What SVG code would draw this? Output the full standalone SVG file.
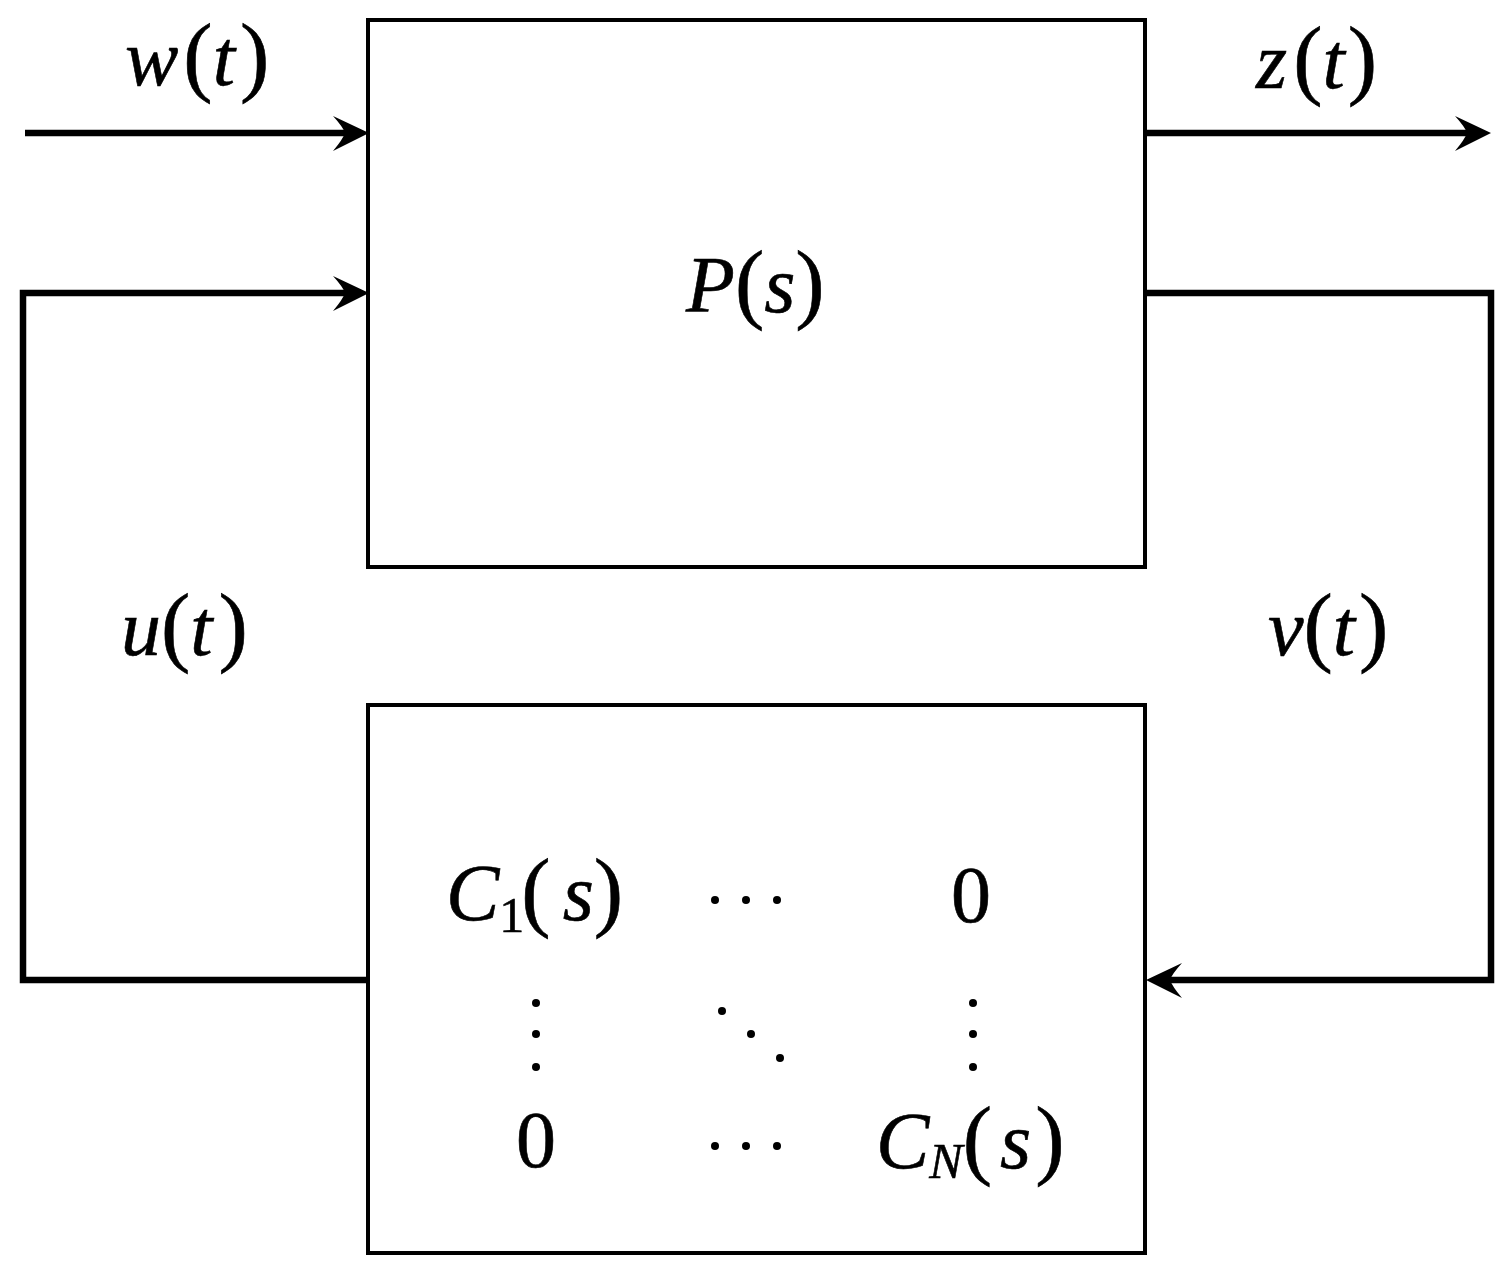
<svg xmlns="http://www.w3.org/2000/svg" width="1510" height="1273" viewBox="0 0 1510 1273">
<defs>
<style>
.box{fill:none;stroke:#000;stroke-width:4}
.wire{fill:none;stroke:#000;stroke-width:6.5}
.head{fill:#000;stroke:none}
.t{fill:#000;stroke:#000;stroke-width:0.6;font-size:80px}
.v{font-style:italic}
.p{font-style:normal;font-size:88px}
.n{font-style:normal}
.sub{font-size:50px}
</style>
</defs>
<rect width="1510" height="1273" fill="#fff"/>
<g id="connectors">
<line class="wire" x1="25" y1="133" x2="350" y2="133"/>
<path class="head" d="M369,133 L333,116 Q343,127 345,133 Q343,139 333,151 Z"/>
<line class="wire" x1="1146" y1="133" x2="1472" y2="133"/>
<path class="head" d="M1491,133 L1455,116 Q1465,127 1467,133 Q1465,139 1455,151 Z"/>
<polyline class="wire" points="368,980 23,980 23,293 350,293"/>
<path class="head" d="M369,293 L333,276 Q343,287 345,293 Q343,299 333,311 Z"/>
<polyline class="wire" points="1146,293 1491,293 1491,980 1164,980"/>
<path class="head" d="M1146,980 L1182,963 Q1172,974 1170,980 Q1172,986 1182,998 Z"/>
</g>
<g id="plant">
<rect class="box" x="368" y="20" width="777" height="547"/>
<text class="t" font-family="'Liberation Serif', 'DejaVu Serif', serif" x="686" y="312"><tspan class="v">P</tspan><tspan class="p">(</tspan><tspan class="v">s</tspan><tspan class="p">)</tspan></text>
</g>
<g id="controller">
<rect class="box" x="368" y="705" width="777" height="548"/>
<text class="t" font-family="'Liberation Serif', 'DejaVu Serif', serif" x="446" y="920"><tspan class="v">C</tspan><tspan class="n sub" dy="12">1</tspan><tspan class="p" dx="-3" dy="-12">(</tspan><tspan class="v" dx="12">s</tspan><tspan class="p">)</tspan></text>
<text class="t n" font-family="'Liberation Serif', 'DejaVu Serif', serif" x="951" y="922">0</text>
<text class="t n" font-family="'Liberation Serif', 'DejaVu Serif', serif" x="516" y="1167">0</text>
<text class="t" font-family="'Liberation Serif', 'DejaVu Serif', serif" x="876" y="1168"><tspan class="v">C</tspan><tspan class="v sub" dy="10">N</tspan><tspan class="p" dy="-10">(</tspan><tspan class="v" dx="8">s</tspan><tspan class="p" dx="4">)</tspan></text>
<g fill="#000">
<circle cx="715" cy="900" r="4"/><circle cx="746" cy="900" r="4"/><circle cx="777" cy="900" r="4"/>
<circle cx="715" cy="1146" r="4"/><circle cx="746" cy="1146" r="4"/><circle cx="777" cy="1146" r="4"/>
<circle cx="536" cy="1003" r="4"/><circle cx="536" cy="1034" r="4"/><circle cx="536" cy="1067" r="4"/>
<circle cx="973" cy="1003" r="4"/><circle cx="973" cy="1034" r="4"/><circle cx="973" cy="1067" r="4"/>
<circle cx="722" cy="1011" r="4"/><circle cx="751" cy="1034" r="4"/><circle cx="780" cy="1058" r="4"/>
</g>
</g>
<g id="labels">
<text class="t" font-family="'Liberation Serif', 'DejaVu Serif', serif" x="125" y="85"><tspan class="v">w</tspan><tspan class="p" dx="5">(</tspan><tspan class="v">t</tspan><tspan class="p" dx="5">)</tspan></text>
<text class="t" font-family="'Liberation Serif', 'DejaVu Serif', serif" x="1256" y="88"><tspan class="v">z</tspan><tspan class="p" dx="6">(</tspan><tspan class="v">t</tspan><tspan class="p" dx="3">)</tspan></text>
<text class="t" font-family="'Liberation Serif', 'DejaVu Serif', serif" x="121" y="655"><tspan class="v">u</tspan><tspan class="p">(</tspan><tspan class="v">t</tspan><tspan class="p" dx="6">)</tspan></text>
<text class="t" font-family="'Liberation Serif', 'DejaVu Serif', serif" x="1268" y="655"><tspan class="v">v</tspan><tspan class="p">(</tspan><tspan class="v">t</tspan><tspan class="p" dx="4">)</tspan></text>
</g>
</svg>
